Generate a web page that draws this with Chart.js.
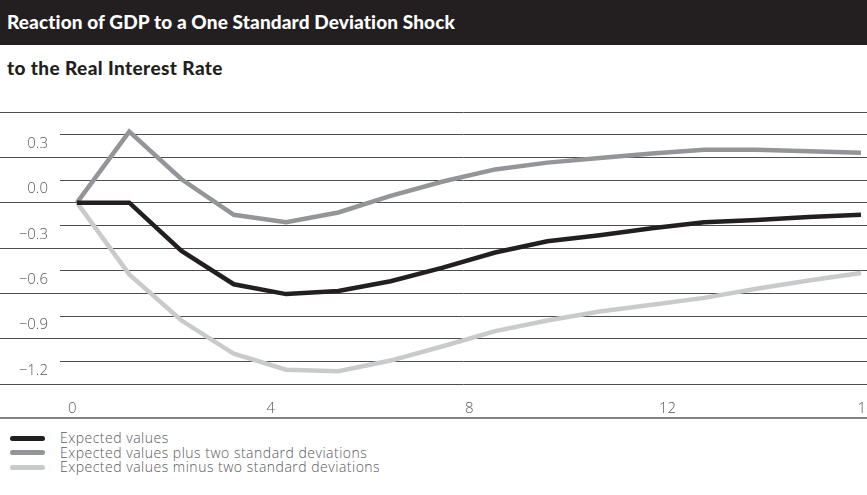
<!DOCTYPE html>
<html>
<head>
<meta charset="utf-8">
<script src="https://cdn.jsdelivr.net/npm/chart.js@4.4.0/dist/chart.umd.min.js"></script>
<style>
    body {
        margin: 0;
        width: 867px;
        height: 495px;
        overflow: hidden;
        position: relative;
        background: #fff;
        font-family: 'Open Sans', sans-serif;
    }
    .band {
        position: absolute;
        left: 0; top: 0;
        width: 867px; height: 45px;
        background: #231f20;
    }
    .title {
        position: absolute;
        left: 7px;
        font-family: 'Lato', sans-serif;
        font-weight: 900;
        font-size: 19px;
        line-height: 24px;
        letter-spacing: 0.12px;
        white-space: nowrap;
    }
    #chartBox {
        position: absolute;
        left: 0; top: 100px;
        width: 867px; height: 318px;
    }
    .rule {
        position: absolute;
        left: 0; top: 417px;
        width: 867px; height: 2px;
        background: #808285;
    }
    .legend-row {
        position: absolute;
        left: 10px;
        height: 15px;
        line-height: 15px;
        font-size: 14px;
        font-weight: 300;
        letter-spacing: 0.5px;
        color: #58595b;
        white-space: nowrap;
    }
    .legend-row i {
        display: inline-block;
        width: 35px; height: 5px;
        border-radius: 3px;
        vertical-align: middle;
        margin: -2px 15px 0 0;
    }
</style>
</head>
<body>
<div class="band"></div>
<div class="title" style="top:10px;color:#fff;">Reaction of GDP to a One Standard Deviation Shock</div>
<div class="title" style="top:56px;color:#231f20;letter-spacing:0.4px;">to the Real Interest Rate</div>
<div id="chartBox"><canvas id="gdpChart"></canvas></div>
<div class="rule"></div>
<div id="legend"></div>

<script>
// quarters after the shock
const periods = [0, 1, 2, 3, 4, 5, 6, 7, 8, 9, 10, 11, 12, 13, 14, 15];

const expected   = [0, 0, -0.32, -0.54, -0.605, -0.585, -0.52, -0.43, -0.33, -0.255, -0.215, -0.17, -0.13, -0.115, -0.095, -0.08];
const plusTwoSd  = [0, 0.47, 0.155, -0.08, -0.13, -0.065, 0.045, 0.14, 0.22, 0.265, 0.295, 0.325, 0.35, 0.35, 0.34, 0.33];
const minusTwoSd = [0, -0.475, -0.78, -1.0, -1.105, -1.115, -1.045, -0.95, -0.85, -0.78, -0.72, -0.675, -0.63, -0.57, -0.515, -0.465];

const seriesNames = [
    'Expected values',
    'Expected values plus two standard deviations',
    'Expected values minus two standard deviations'
];
const seriesColors = ['#231f20', '#939598', '#c9cacc'];

const xTickValues = [0, 4, 8, 12, 16];
const yTickValues = [0.3, 0.0, -0.3, -0.6, -0.9, -1.2];

const gridColor = '#4d4d4f';
const labelFont = { family: 'Open Sans', size: 15, weight: '300' };

function isLabelled(v) {
    return yTickValues.some(t => Math.abs(t - v) < 1e-6);
}
function isFullLine(v) {
    return Math.abs(v / 0.3 - Math.round(v / 0.3)) < 1e-6;
}
function fmt(v) {
    return (v < -1e-9 ? '\u2212' : '') + Math.abs(v).toFixed(1);
}

const allSeries = [expected, plusTwoSd, minusTwoSd];

new Chart(document.getElementById('gdpChart'), {
    type: 'line',
    data: {
        datasets: allSeries.map((vals, i) => ({
            label: seriesNames[i],
            data: periods.map((t, j) => ({ x: t, y: vals[j] })),
            borderColor: seriesColors[i],
            borderWidth: 4.5,
            pointRadius: 0,
            tension: 0,
            xAxisID: 'x',
            fill: false
        }))
    },
    options: {
        responsive: true,
        maintainAspectRatio: false,
        animation: false,
        layout: { padding: { top: 12, left: 0, right: 0, bottom: 0 } },
        plugins: {
            legend: { display: false },
            tooltip: { enabled: false }
        },
        scales: {
            x: {
                type: 'linear',
                display: false,
                min: -0.325,
                max: 15.115
            },
            x2: {
                type: 'linear',
                position: 'bottom',
                min: -0.25,
                max: 16.02,
                grid: { display: false },
                border: { display: false },
                afterBuildTicks: s => { s.ticks = xTickValues.map(v => ({ value: v })); },
                afterFit: s => { s.height = 34; s.paddingLeft = 0; s.paddingRight = 0; },
                ticks: {
                    autoSkip: false,
                    maxRotation: 0,
                    padding: 8,
                    color: '#58595b',
                    font: labelFont,
                    callback: v => String(v)
                }
            },
            y: {
                min: -1.2,
                max: 0.6,
                border: { display: false },
                afterFit: s => { s.width = 60; s.paddingTop = 0; s.paddingBottom = 0; },
                grid: {
                    color: gridColor,
                    lineWidth: 1,
                    drawTicks: true,
                    tickLength: 60,
                    tickWidth: 1,
                    tickColor: ctx => isFullLine(ctx.tick.value) ? gridColor : 'rgba(0,0,0,0)'
                },
                ticks: {
                    stepSize: 0.15,
                    autoSkip: false,
                    padding: -48,
                    labelOffset: -13.5,
                    color: '#58595b',
                    font: labelFont,
                    callback: v => isLabelled(v) ? fmt(v) : ''
                }
            }
        }
    }
});

// legend built from the same series arrays
const legend = document.getElementById('legend');
const rowCentres = [437.5, 452.2, 466.8];
seriesNames.forEach((name, i) => {
    const row = document.createElement('div');
    row.className = 'legend-row';
    row.style.top = (rowCentres[i] - 7.5) + 'px';
    row.innerHTML = '<i style="background:' + seriesColors[i] + '"></i>' + name;
    legend.appendChild(row);
});
</script>
</body>
</html>
